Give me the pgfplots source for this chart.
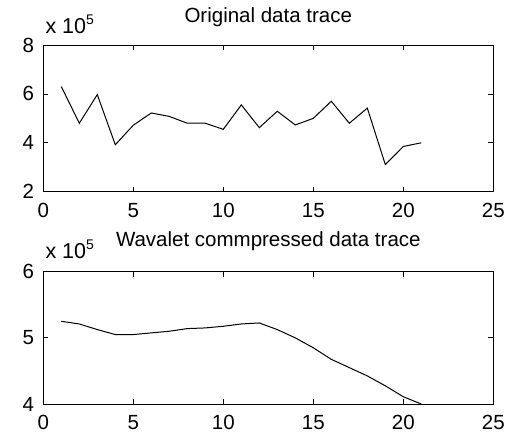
\documentclass[border=0pt]{standalone}
\usepackage{fontspec}
\setmainfont{Liberation Sans}
\usepackage{pgfplots}
\pgfplotsset{compat=1.18}
\begin{document}
\begin{tikzpicture}
\path[use as bounding box] (0,0) rectangle (510pt,434pt);
\pgfplotsset{
  mstyle/.style={
    scale only axis,
    width=450pt,
    xmin=0, xmax=25,
    xtick={0,5,10,15,20,25},
    tick align=inside,
    major tick length=5pt,
    xtick pos=both, ytick pos=both,
    axis line style={line width=0.9pt},
    every tick/.style={black, line width=0.8pt},
    tick label style={font=\fontsize{20.5}{20.5}\selectfont, inner sep=0pt},
    xticklabel style={yshift=-11pt},
    yticklabel style={xshift=-9pt},
    /pgf/number format/assume math mode=true,
    title style={font=\fontsize{20.5}{20.5}\selectfont, anchor=base, at={(0.5,1)}, inner sep=0pt},
  }
}
\begin{axis}[mstyle, name=top,
  height=146.7pt,
  at={(43.3pt,242.3pt)}, anchor=south west,
  ymin=2, ymax=8, ytick={2,4,6,8},
  title={Original data trace},
  title style={yshift=17pt},
]
\addplot[black, line width=1pt] coordinates {
(1,6.30) (2,4.80) (3,5.97) (4,3.92) (5,4.72) (6,5.22) (7,5.08) (8,4.80) (9,4.80) (10,4.55)
(11,5.55) (12,4.62) (13,5.29) (14,4.73) (15,5.00) (16,5.70) (17,4.80) (18,5.42) (19,3.11) (20,3.85) (21,4.00)
};
\end{axis}
\node[anchor=base west, inner sep=0pt, font=\fontsize{21.5}{21.5}\selectfont] at ([xshift=2pt, yshift=12pt]top.north west) {x 10\raisebox{9pt}{\fontsize{14}{14}\selectfont 5}};
\begin{axis}[mstyle, name=bot,
  height=132.3pt,
  at={(43.3pt,30pt)}, anchor=south west,
  ymin=4, ymax=6, ytick={4,5,6},
  title={Wavalet commpressed data trace},
  title style={yshift=19pt},
]
\addplot[black, line width=1pt] coordinates {
(1,5.25) (2,5.21) (3,5.125) (4,5.05) (5,5.05) (6,5.075) (7,5.10) (8,5.14) (9,5.15) (10,5.175)
(11,5.21) (12,5.225) (13,5.125) (14,5.00) (15,4.85) (16,4.675) (17,4.55) (18,4.425) (19,4.275) (20,4.11) (21,4.00)
};
\end{axis}
\node[anchor=base west, inner sep=0pt, font=\fontsize{21.5}{21.5}\selectfont] at ([xshift=2pt, yshift=13.5pt]bot.north west) {x 10\raisebox{9pt}{\fontsize{14}{14}\selectfont 5}};
\end{tikzpicture}
\end{document}
